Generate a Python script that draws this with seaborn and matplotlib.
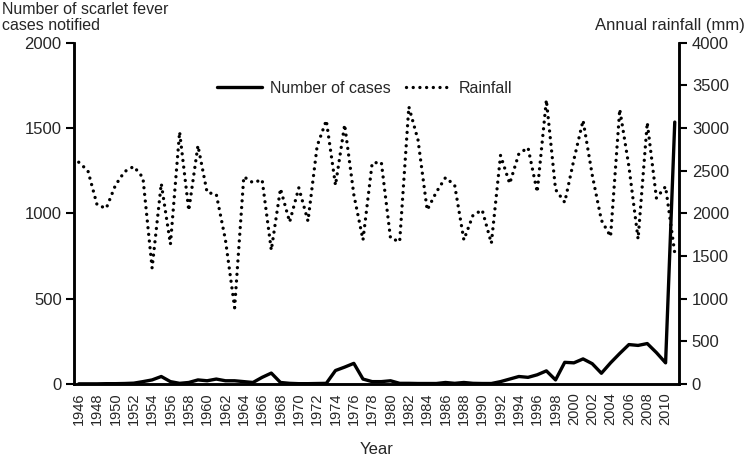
import numpy as np
import pandas as pd
import matplotlib
matplotlib.use("Agg")
import matplotlib.pyplot as plt
import seaborn as sns

# ---------- data ----------
years = list(range(1946, 2012))

cases = [2, 2, 2, 3, 3, 4, 6, 15, 25, 45,
         15, 5, 10, 25, 20, 30, 20, 20, 15, 10,
         40, 65, 10, 5, 3, 3, 4, 5, 80, 100,
         122, 30, 15, 15, 20, 5, 5, 4, 4, 4,
         10, 5, 10, 5, 4, 4, 15, 30, 45, 40,
         55, 78, 25, 128, 125, 148, 120, 64, 125, 180,
         232, 227, 238, 185, 125, 1535]

rainfall = [2600, 2500, 2100, 2060, 2330, 2490, 2550, 2420, 1360, 2350,
            1640, 2955, 2035, 2795, 2245, 2225, 1690, 895, 2430, 2360,
            2395, 1570, 2290, 1900, 2300, 1910, 2790, 3090, 2330, 3040,
            2220, 1690, 2590, 2600, 1710, 1670, 3250, 2860, 2040, 2250,
            2420, 2330, 1690, 1980, 2040, 1650, 2680, 2350, 2700, 2770,
            2250, 3330, 2280, 2130, 2630, 3090, 2450, 1920, 1730, 3220,
            2550, 1700, 3065, 2180, 2315, 1535]

df = pd.DataFrame({"Year": years, "Cases": cases, "Rainfall": rainfall})

# ---------- style ----------
sns.set_theme(style="white")
plt.rcParams["font.family"] = ["Liberation Sans", "DejaVu Sans"]
plt.rcParams["font.size"] = 11

fig = plt.figure(figsize=(7.49, 4.59), dpi=100)
ax = fig.add_axes([0.099, 0.163, 0.808, 0.744])
ax2 = ax.twinx()

sns.lineplot(data=df, x="Year", y="Cases", ax=ax, color="black",
             linewidth=2.4, label="Number of cases", legend=False)
sns.lineplot(data=df, x="Year", y="Rainfall", ax=ax2, color="black",
             linewidth=2.4, linestyle=(0, (0.01, 2.0)), dash_capstyle="round",
             label="Rainfall", legend=False)

ax.set_xlim(1945.5, 2011.5)
ax.set_ylim(0, 2000)
ax2.set_ylim(0, 4000)
ax.set_yticks(np.arange(0, 2001, 500))
ax2.set_yticks(np.arange(0, 4001, 500))

ax.set_xticks(years[::2])
ax.set_xticklabels([str(y) for y in years[::2]], rotation=90, fontsize=10.5)
ax.set_xticks(np.arange(1945.5, 2012, 1), minor=True)
ax.tick_params(axis="x", which="major", length=0, pad=6)
ax.tick_params(axis="x", which="minor", length=4, width=1.2, direction="out", color="black")
ax.tick_params(axis="y", length=6, width=1.5, direction="out", color="black", labelsize=12, pad=3)
ax2.tick_params(axis="y", length=6, width=1.5, direction="out", color="black", labelsize=12, pad=3)

for a in (ax, ax2):
    a.spines["top"].set_visible(False)
    for s in ("left", "right", "bottom"):
        a.spines[s].set_linewidth(1.8)
        a.spines[s].set_color("black")
    a.set_ylabel("")
    a.grid(False)

ax.set_xlabel("Year", fontsize=12, labelpad=12)

fig.text(0.003, 0.995, "Number of scarlet fever\ncases notified", ha="left", va="top",
         fontsize=11.5, linespacing=1.1)
fig.text(0.995, 0.96, "Annual rainfall (mm)", ha="right", va="top", fontsize=12)

h1, l1 = ax.get_legend_handles_labels()
h2, l2 = ax2.get_legend_handles_labels()
ax2.legend(h1 + h2, l1 + l2, loc="upper center", bbox_to_anchor=(0.48, 0.93),
           ncol=2, frameon=False, fontsize=11.5, handlelength=2.8, columnspacing=1.0,
           handletextpad=0.5)

fig.savefig("out.png", dpi=100)
